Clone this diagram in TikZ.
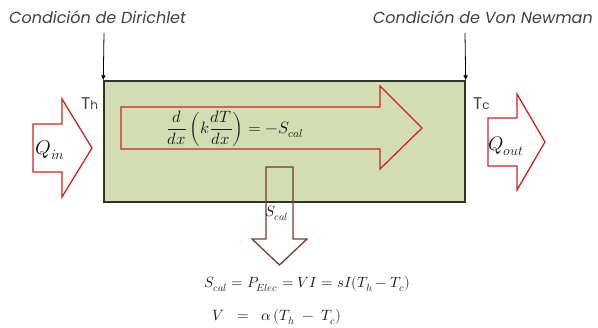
\documentclass[tikz,border=0pt]{standalone}
\usepackage{fontspec}
\usepackage{amsmath}
\usepackage{unicode-math}
\usetikzlibrary{arrows.meta}
\newfontfamily\gothic{Poppins}
\definecolor{barfill}{RGB}{211,221,179}
\definecolor{barline}{RGB}{50,50,45}
\definecolor{arrred}{RGB}{204,36,36}
\definecolor{arrbrown}{RGB}{120,58,45}
\definecolor{txtgray}{RGB}{64,64,64}
\definecolor{eqtext}{RGB}{25,25,25}
\tikzset{
  redarrow/.style={draw=arrred, line width=1.3pt, line join=miter},
  brownarrow/.style={draw=arrbrown, line width=1.3pt, line join=miter},
  condlabel/.style={font=\gothic\itshape\fontsize{16}{18}\selectfont, text=txtgray, inner sep=0pt},
  templabel/.style={font=\gothic\fontsize{17}{19}\selectfont, text=txtgray, inner sep=0pt},
  mathlabel/.style={text=eqtext, inner sep=0pt},
  condarrow/.style={draw=black, line width=0.8pt, -{Latex[length=5pt,width=5pt]}}
}
\begin{document}
\begin{tikzpicture}[x=1pt,y=-1pt]
\useasboundingbox (0,0) rectangle (598,328);
% bar
\node[draw=barline, fill=barfill, line width=1.4pt, minimum width=361pt, minimum height=121pt, inner sep=0pt] (bar) at (284.5,141.5) {};
% inner arrow
\draw[redarrow] (121,107) -- (380,107) -- (380,86) -- (422,128) -- (380,169) -- (380,149) -- (121,149) -- cycle;
% Qin arrow
\draw[redarrow, fill=white] (33,124) -- (62,124) -- (62,99) -- (92,148) -- (62,197) -- (62,172) -- (33,172) -- cycle;
% Qout arrow
\draw[redarrow, fill=white] (488,118) -- (517,118) -- (517,94) -- (545,142) -- (517,190) -- (517,166) -- (488,166) -- cycle;
% Scal arrow
\draw[brownarrow] (266,167) -- (293,167) -- (293,239) -- (307,239) -- (279.5,265) -- (252,239) -- (266,239) -- cycle;
% labels
\node[condlabel, anchor=base west] (dir) at (9,24) {Condición de Dirichlet};
\node[condlabel, anchor=base east] (neu) at (593,24) {Condición de Von Newman};
\coordinate (dirtop) at (104,33);
\coordinate (neutop) at (465,33);
\draw[condarrow] (dirtop) -- (bar.north west);
\draw[condarrow] (neutop) -- (bar.north east);
\node[templabel, anchor=base west] (th) at (81,110) {T{\fontsize{12}{13}\selectfont h}};
\node[templabel, anchor=base west] (tc) at (473,110) {T{\fontsize{12}{13}\selectfont c}};
\node[mathlabel, font=\fontsize{16.4}{19}\selectfont] (eq) at (235,129) {$\displaystyle \frac{d}{dx}\left(k\frac{dT}{dx}\right)=-S_{cal}$};
\node[mathlabel, font=\fontsize{20}{22}\selectfont] (qin) at (50,150) {$Q_{in}$};
\node[mathlabel, font=\fontsize{19.5}{22}\selectfont] (qout) at (506,146) {$Q_{out}$};
\node[mathlabel, font=\fontsize{15}{18}\selectfont] (scal) at (277,213) {$S_{cal}$};
\node[mathlabel, font=\fontsize{14.8}{18}\selectfont] (eq1) at (307.5,284) {$S_{cal}=P_{Elec}=VI=sI(T_h-T_c)$};
\node[mathlabel, font=\fontsize{15}{18}\selectfont] (eq2) at (277,317) {$V\;\;=\;\;\alpha\,(T_h\;-\;T_c)$};
\end{tikzpicture}
\end{document}
